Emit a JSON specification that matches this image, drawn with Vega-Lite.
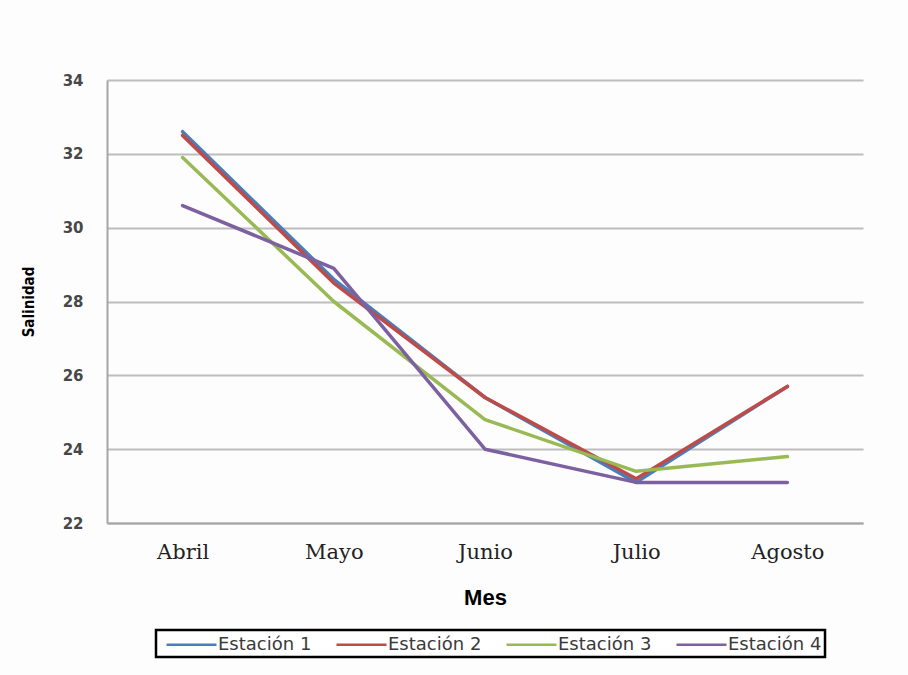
{
  "$schema": "https://vega.github.io/schema/vega-lite/v6.json",
  "autosize": {"type": "none"},
  "width": 756,
  "height": 443,
  "padding": {"left": 107, "top": 80, "right": 45, "bottom": 152},
  "background": "#fdfdfd",
  "data": {
    "values": [
      {"mes": "Abril", "estacion": "Estación 1", "salinidad": 32.6},
      {"mes": "Mayo", "estacion": "Estación 1", "salinidad": 28.6},
      {"mes": "Junio", "estacion": "Estación 1", "salinidad": 25.4},
      {"mes": "Julio", "estacion": "Estación 1", "salinidad": 23.1},
      {"mes": "Agosto", "estacion": "Estación 1", "salinidad": 25.7},
      {"mes": "Abril", "estacion": "Estación 2", "salinidad": 32.5},
      {"mes": "Mayo", "estacion": "Estación 2", "salinidad": 28.5},
      {"mes": "Junio", "estacion": "Estación 2", "salinidad": 25.4},
      {"mes": "Julio", "estacion": "Estación 2", "salinidad": 23.2},
      {"mes": "Agosto", "estacion": "Estación 2", "salinidad": 25.7},
      {"mes": "Abril", "estacion": "Estación 3", "salinidad": 31.9},
      {"mes": "Mayo", "estacion": "Estación 3", "salinidad": 28.0},
      {"mes": "Junio", "estacion": "Estación 3", "salinidad": 24.8},
      {"mes": "Julio", "estacion": "Estación 3", "salinidad": 23.4},
      {"mes": "Agosto", "estacion": "Estación 3", "salinidad": 23.8},
      {"mes": "Abril", "estacion": "Estación 4", "salinidad": 30.6},
      {"mes": "Mayo", "estacion": "Estación 4", "salinidad": 28.9},
      {"mes": "Junio", "estacion": "Estación 4", "salinidad": 24.0},
      {"mes": "Julio", "estacion": "Estación 4", "salinidad": 23.1},
      {"mes": "Agosto", "estacion": "Estación 4", "salinidad": 23.1}
    ]
  },
  "mark": {"type": "line", "strokeWidth": 3.5, "strokeCap": "round", "strokeJoin": "round"},
  "encoding": {
    "x": {
      "field": "mes",
      "type": "nominal",
      "sort": ["Abril", "Mayo", "Junio", "Julio", "Agosto"],
      "scale": {"paddingInner": 0, "paddingOuter": 0.5},
      "axis": {
        "title": "Mes",
        "labelAngle": 0,
        "labelFont": "DejaVu Serif",
        "labelFontSize": 21,
        "labelColor": "#222222",
        "labelPadding": 18,
        "ticks": false,
        "grid": false,
        "domainColor": "#a6a6a6",
        "domainWidth": 2,
        "titleFont": "Liberation Sans",
        "titleFontSize": 22,
        "titleFontWeight": "bold",
        "titleColor": "#000000",
        "titlePadding": 25
      }
    },
    "y": {
      "field": "salinidad",
      "type": "quantitative",
      "scale": {"domain": [22, 34], "nice": false, "zero": false},
      "axis": {
        "title": "Salinidad",
        "values": [22, 24, 26, 28, 30, 32, 34],
        "labelFont": "DejaVu Sans",
        "labelFontWeight": "bold",
        "labelFontSize": 15,
        "labelColor": "#474747",
        "labelPadding": 24,
        "ticks": false,
        "grid": true,
        "gridColor": "#bdbdbd",
        "gridWidth": 2,
        "domainColor": "#a6a6a6",
        "domainWidth": 2,
        "titleFont": "Liberation Sans Narrow, DejaVu Sans Condensed",
        "titleFontSize": 15,
        "titleFontWeight": "bold",
        "titleColor": "#000000",
        "titlePadding": 26
      }
    },
    "color": {
      "field": "estacion",
      "type": "nominal",
      "scale": {
        "domain": ["Estación 1", "Estación 2", "Estación 3", "Estación 4"],
        "range": ["#4a7ebb", "#be4b48", "#98b954", "#7d60a0"]
      },
      "legend": {
        "title": null,
        "orient": "none",
        "legendX": 49,
        "legendY": 550,
        "direction": "horizontal",
        "symbolType": "M-1,0H4",
        "symbolSize": 400,
        "symbolStrokeWidth": 2.5,
        "symbolOffset": 6,
        "labelOffset": 30,
        "labelFont": "DejaVu Sans",
        "labelFontSize": 18,
        "labelColor": "#3a3a3a",
        "columnPadding": 17,
        "padding": 3,
        "strokeColor": "#000000",
        "fillColor": "#ffffff"
      }
    }
  },
  "config": {
    "view": {"stroke": null},
    "legend": {"strokeWidth": 2.5}
  }
}
